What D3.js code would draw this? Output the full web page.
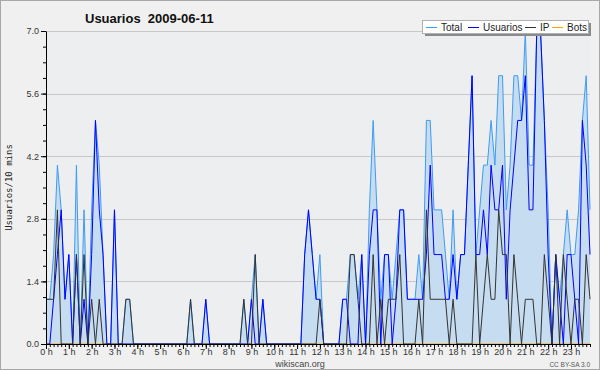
<!DOCTYPE html>
<html>
<head>
<meta charset="utf-8">
<script src="https://cdn.jsdelivr.net/npm/d3@7"></script>
<style>
  body { margin: 0; background: #fff; }
  svg text { font-family: "Liberation Sans", Arial, sans-serif; }
</style>
</head>
<body>
<div id="chart"></div>
<script>
// hour labels on the x axis (one point every 10 minutes, 6 per hour)
const hourLabels = ['0 h','1 h','2 h','3 h','4 h','5 h','6 h','7 h','8 h','9 h','10 h','11 h',
  '12 h','13 h','14 h','15 h','16 h','17 h','18 h','19 h','20 h','21 h','22 h','23 h']
const yTicks = [0.0, 1.4, 2.8, 4.2, 5.6, 7.0]

const seriesNames = ['Total', 'Usuarios', 'IP', 'Bots']

const total = [
  1,1,2,4,3,1,2,0,4,0, 3,0,3,5,4,2,0,0,3,0, 0,1,1,0,0,0,0,0,0,0,
  0,0,0,0,0,0,0,0,1,0, 0,0,1,0,0,0,0,0,0,0, 0,0,1,0,1,2,0,1,0,0,
  0,0,0,0,0,0,0,0,2,3, 2,1,2,0,0,0,0,0,1,1, 2,2,1,2,0,3,5,3,1,2,
  2,1,2,3,3,1,1,1,2,1, 5,5,3,3,3,2,1,3,1,2, 2,4,6,2,3,4,4,5,4,6,
  6,3,4,6,6,5,7,4,4,7, 7,5,3,0,2,1,2,3,2,2, 3,5,6,3]

const usuarios = [
  0,0,1,2,3,1,2,0,2,0, 1,0,2,5,3,2,0,0,3,0, 0,0,0,0,0,0,0,0,0,0,
  0,0,0,0,0,0,0,0,0,0, 0,0,1,0,0,0,0,0,0,0, 0,0,0,0,1,0,0,1,0,0,
  0,0,0,0,0,0,0,0,2,3, 2,1,1,0,0,0,0,0,1,1, 0,0,0,2,0,2,3,3,0,2,
  2,0,1,3,3,1,1,1,1,1, 2,4,2,2,2,1,1,2,1,2, 2,4,6,2,2,3,2,4,3,3,
  4,1,3,4,5,5,6,3,3,7, 7,5,2,0,2,1,0,2,2,1, 0,5,4,2]

const ip = [
  1,1,1,3,0,0,0,0,2,0, 2,0,1,0,1,0,0,0,0,0, 0,1,1,0,0,0,0,0,0,0,
  0,0,0,0,0,0,0,0,1,0, 0,0,0,0,0,0,0,0,0,0, 0,0,1,0,0,2,0,0,0,0,
  0,0,0,0,0,0,0,0,0,0, 0,0,1,0,0,0,0,0,0,0, 2,2,1,0,0,0,2,0,1,0,
  1,1,1,2,0,0,0,0,1,0, 3,1,1,1,1,1,0,1,0,0, 0,0,0,2,0,1,2,1,1,3,
  2,2,0,2,1,0,1,1,1,0, 0,2,1,0,2,0,2,1,0,1, 1,0,2,1]

const bots = [
  0,0,0,0,0,0,0,0,0,0, 0,0,0,0,0,0,0,0,0,0, 0,0,0,0,0,0,0,0,0,0,
  0,0,0,0,0,0,0,0,0,0, 0,0,0,0,0,0,0,0,0,0, 0,0,0,0,0,0,0,0,0,0,
  0,0,0,0,0,0,0,0,0,0, 0,0,0,0,0,0,0,0,0,0, 0,0,0,0,0,0,0,0,0,0,
  0,0,0,0,0,0,0,0,0,0, 0,0,0,0,0,0,0,0,0,0, 0,0,0,0,0,0,0,0,0,0,
  0,0,0,0,0,0,0,0,0,0, 0,0,0,0,0,0,0,0,0,0, 0,0,0,0]

const colors = ['#3d9cf5', '#0000ff', '#333333', '#ffa500']

function drawChart(width, height, container) {
  var left = 46, right = 590, top = 31, bottom = 344

  var x = d3.scaleLinear().domain([0, total.length - 1]).range([left, right])
  var y = d3.scaleLinear().domain([0, 7]).range([bottom, top])

  var svg = d3.select('#' + container)
    .append('svg')
    .attr('width', width)
    .attr('height', height)

  // frame
  svg.append('rect')
    .attr('x', 0.5).attr('y', 0.5)
    .attr('width', width - 1).attr('height', height - 1)
    .attr('fill', '#f0f0f0')
    .attr('stroke', '#a8a8a8')

  svg.append('rect')
    .attr('x', left).attr('y', top)
    .attr('width', right - left).attr('height', bottom - top)
    .attr('fill', '#eceef0')

  // grid
  svg.append('g')
    .selectAll('line')
    .data(yTicks.slice(1))
    .enter()
    .append('line')
    .attr('x1', left).attr('x2', right)
    .attr('y1', function(d) { return Math.round(y(d)) + 0.5 })
    .attr('y2', function(d) { return Math.round(y(d)) + 0.5 })
    .attr('stroke', '#c8c8c8')

  var area = d3.area()
    .x(function(d, i) { return x(i) })
    .y0(y(0))
    .y1(function(d) { return y(d) })

  var line = d3.line()
    .x(function(d, i) { return x(i) })
    .y(function(d) { return y(d) })

  svg.append('path')
    .attr('d', area(total))
    .attr('fill', '#c6dcf0')

  var series = [total, usuarios, ip, bots]
  var drawOrder = [3, 0, 1, 2]
  drawOrder.forEach(function(k) {
    svg.append('path')
      .attr('d', line(series[k]))
      .attr('fill', 'none')
      .attr('stroke', colors[k])
      .attr('stroke-width', 1)
  })

  // y axis: minor ticks every 0.35, labels every 1.4
  svg.append('g')
    .attr('transform', 'translate(' + left + ',0)')
    .call(d3.axisLeft(y).tickValues(d3.range(0, 21).map(function(k) { return k * 0.35 }))
      .tickSize(3).tickFormat(''))
    .call(function(g) { g.select('.domain').remove() })
  svg.append('g')
    .attr('transform', 'translate(' + left + ',0)')
    .call(d3.axisLeft(y).tickValues(yTicks).tickSize(5).tickSizeOuter(0).tickPadding(2)
      .tickFormat(d3.format('.1f')))
    .call(function(g) {
      g.selectAll('text').style('font-size', '9px').attr('fill', '#333')
    })

  // x axis: minor ticks every 10 min, labels every hour
  svg.append('g')
    .attr('transform', 'translate(0,' + bottom + ')')
    .call(d3.axisBottom(x).tickValues(d3.range(0, total.length)).tickSize(3).tickFormat(''))
    .call(function(g) { g.select('.domain').remove() })
  svg.append('g')
    .attr('transform', 'translate(0,' + bottom + ')')
    .call(d3.axisBottom(x).tickValues(hourLabels.map(function(d, i) { return i * 6 }))
      .tickSize(5).tickSizeOuter(0).tickPadding(0)
      .tickFormat(function(d, i) { return hourLabels[i] }))
    .call(function(g) {
      g.selectAll('text').style('font-size', '9px').attr('fill', '#333')
    })
  svg.selectAll('.domain').attr('stroke', '#000')

  // titles
  svg.append('text')
    .attr('x', 85).attr('y', 23)
    .text('Usuarios  2009-06-11')
    .style('font-size', '13px')
    .style('font-weight', 'bold')
    .style('white-space', 'pre')
    .attr('fill', '#111')

  svg.append('text')
    .attr('transform', 'translate(12,' + ((top + bottom) / 2) + ') rotate(-90)')
    .attr('text-anchor', 'middle')
    .text('Usuarios/10 mins')
    .style('font-family', '"DejaVu Sans Mono", monospace')
    .style('font-size', '9px')
    .attr('fill', '#222')

  svg.append('text')
    .attr('x', 300).attr('y', 367)
    .attr('text-anchor', 'middle')
    .text('wikiscan.org')
    .style('font-size', '9px')
    .attr('fill', '#444')

  svg.append('text')
    .attr('x', 590).attr('y', 367)
    .attr('text-anchor', 'end')
    .text('CC BY-SA 3.0')
    .style('font-size', '6.5px')
    .attr('fill', '#555')

  // legend
  var lg = svg.append('g').attr('transform', 'translate(422,20)')
  lg.append('rect')
    .attr('x', 3).attr('y', 3).attr('width', 166).attr('height', 13)
    .attr('fill', '#8a8a8a')
  lg.append('rect')
    .attr('x', 0.5).attr('y', 0.5).attr('width', 166).attr('height', 13)
    .attr('fill', '#fff').attr('stroke', '#b0b0b0')

  var itemX = [4, 46, 103, 130]
  var item = lg.selectAll('.legend')
    .data(seriesNames)
    .enter()
    .append('g')
    .attr('class', 'legend')
    .attr('transform', function(d, i) { return 'translate(' + itemX[i] + ',0)' })
  item.append('line')
    .attr('x1', 0).attr('x2', 11).attr('y1', 7.5).attr('y2', 7.5)
    .attr('stroke', function(d, i) { return colors[i] })
  item.append('text')
    .attr('x', 15).attr('y', 11)
    .text(function(d) { return d })
    .style('font-size', '10px')
    .attr('fill', '#222')
}

drawChart(600, 370, 'chart')
</script>
</body>
</html>
